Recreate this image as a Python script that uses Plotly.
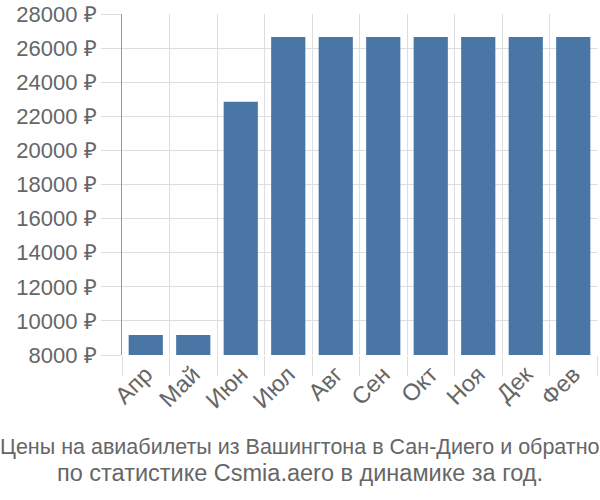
import plotly.graph_objects as go

categories = ["Апр", "Май", "Июн", "Июл", "Авг", "Сен", "Окт", "Ноя", "Дек", "Фев"]
prices = [9170, 9170, 22850, 26650, 26650, 26650, 26650, 26650, 26650, 26650]
y_ticks = list(range(8000, 28001, 2000))
y_labels = [f"{v} ₽" for v in y_ticks]
title_lines = ["Цены на авиабилеты из Вашингтона в Сан-Диего и обратно",
               "по статистике Csmia.aero в динамике за год."]

fig = go.Figure(go.Bar(x=categories, y=prices, marker_color="#4a76a6",
                       marker_line_width=0))

font = "Liberation Sans, Arial, sans-serif"
cx = (300 - 122) / 475
fig.update_layout(
    width=600, height=500,
    margin=dict(l=122, r=3, t=14, b=145),
    plot_bgcolor="white", paper_bgcolor="white",
    bargap=0.28,
    showlegend=False,
    font=dict(family=font, color="#666666", size=22),
    annotations=[
        dict(text=title_lines[0], xref="paper", yref="paper", x=cx, xanchor="center",
             y=0, yanchor="middle", yshift=-92, showarrow=False,
             font=dict(family=font, size=21.5, color="#666666")),
        dict(text=title_lines[1], xref="paper", yref="paper", x=cx, xanchor="center",
             y=0, yanchor="middle", yshift=-118, showarrow=False,
             font=dict(family=font, size=23.5, color="#666666")),
    ]
)
fig.update_xaxes(type="category", tickson="boundaries", showgrid=True,
                 gridcolor="#dddddd", gridwidth=1, ticks="outside", ticklen=20,
                 tickcolor="#dddddd", tickangle=-45, showline=False,
                 tickfont=dict(size=23.5, color="#666666"), range=[-0.5, 9.5])
fig.update_yaxes(range=[8000, 28000], tickvals=y_ticks, ticktext=y_labels,
                 showgrid=True, gridcolor="#dddddd", gridwidth=1,
                 ticks="outside", ticklen=20, tickcolor="#dddddd",
                 showline=True, linecolor="#999999", linewidth=1,
                 zeroline=False, tickfont=dict(size=22, color="#666666"))

fig.write_html("out.html")
